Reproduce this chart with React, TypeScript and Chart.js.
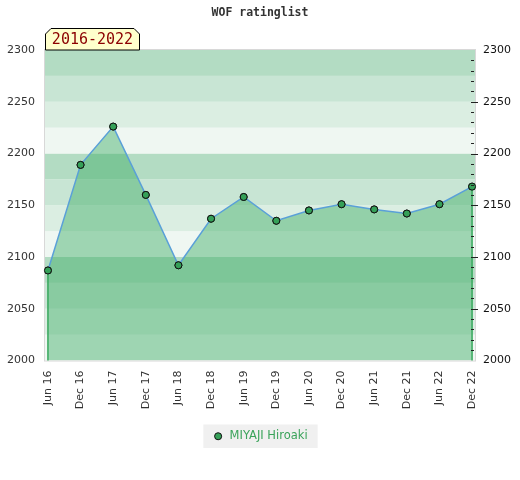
import React, { useEffect, useRef } from "react";
import { Chart, registerables } from "chart.js";

Chart.register(...registerables);

const titleText = "WOF ratinglist";
const periodLabel = "2016-2022";
const seriesName = "MIYAJI Hiroaki";
const categories = [
  "Jun 16", "Dec 16", "Jun 17", "Dec 17", "Jun 18", "Dec 18", "Jun 19",
  "Dec 19", "Jun 20", "Dec 20", "Jun 21", "Dec 21", "Jun 22", "Dec 22",
];
const ratings = [2087, 2189, 2226, 2160, 2092, 2137, 2158, 2135, 2145, 2151, 2146, 2142, 2151, 2168];
const yMin = 2000;
const yMax = 2300;
const yStep = 50;
const bandStep = 25;
const minorStep = 10;
const bandColors = ["#eff7f2", "#dbeee2", "#c8e5d4", "#b3dcc3"];

const sideX = 45;

const decorPlugin = {
  id: "decor",
  beforeDraw(chart: any) {
    const { ctx, chartArea, scales } = chart;
    const y = scales.y;
    ctx.save();
    for (let v = yMin; v < yMax; v += bandStep) {
      const idx = Math.floor(v / bandStep) % 4;
      const top = y.getPixelForValue(v + bandStep);
      const bot = y.getPixelForValue(v);
      ctx.fillStyle = bandColors[idx];
      ctx.fillRect(chartArea.left, top, chartArea.right - chartArea.left, bot - top);
    }
    const lg = chart.legend;
    if (lg && lg.legendHitBoxes && lg.legendHitBoxes.length) {
      const hb = lg.legendHitBoxes[0];
      ctx.fillStyle = "#f0f0f0";
      ctx.fillRect(hb.left - 9, hb.top - 6, hb.width + 19, hb.height + 12);
    }
    ctx.restore();
  },
  beforeDatasetsDraw(chart: any) {
    const { ctx, chartArea } = chart;
    ctx.save();
    ctx.strokeStyle = "#d8d8d8";
    ctx.lineWidth = 1;
    ctx.strokeRect(chartArea.left - 0.5, chartArea.top - 0.5, chartArea.right - chartArea.left + 1, chartArea.bottom - chartArea.top + 1);
    ctx.restore();
  },
  afterDatasetsDraw(chart: any) {
    const { ctx, chartArea, scales } = chart;
    const meta = chart.getDatasetMeta(0);
    const pts = meta.data;
    ctx.save();
    ctx.strokeStyle = "#36a85c";
    ctx.lineWidth = 1.5;
    [pts[0], pts[pts.length - 1]].forEach((p: any) => {
      ctx.beginPath();
      ctx.moveTo(p.x, p.y);
      ctx.lineTo(p.x, chartArea.bottom);
      ctx.stroke();
    });
    pts.forEach((p: any) => p.draw(ctx, chartArea));
    const y2 = scales.y2;
    ctx.strokeStyle = "#222";
    ctx.lineWidth = 1;
    for (let v = yMin + minorStep; v < yMax; v += minorStep) {
      const py = Math.round(y2.getPixelForValue(v)) + 0.5;
      const major = v % yStep === 0;
      ctx.beginPath();
      ctx.moveTo(chartArea.right - 4, py);
      ctx.lineTo(chartArea.right + (major ? 3 : -1), py);
      ctx.stroke();
    }
    const l = chartArea.left;
    const t = chartArea.top;
    const w = 95;
    const h = 22;
    const c = 6;
    ctx.beginPath();
    ctx.moveTo(l + 0.5, t);
    ctx.lineTo(l + 0.5, t - h + c);
    ctx.lineTo(l + c, t - h + 0.5);
    ctx.lineTo(l + w - c, t - h + 0.5);
    ctx.lineTo(l + w - 0.5, t - h + c);
    ctx.lineTo(l + w - 0.5, t);
    ctx.closePath();
    ctx.fillStyle = "#ffffcc";
    ctx.fill();
    ctx.strokeStyle = "#000";
    ctx.stroke();
    ctx.fillStyle = "#8b0000";
    ctx.font = "15px 'DejaVu Sans Mono'";
    ctx.textAlign = "center";
    ctx.textBaseline = "middle";
    ctx.fillText(periodLabel, l + w / 2, t - h / 2 + 1);
    ctx.restore();
  },
};

export default function App() {
  const ref = useRef<HTMLCanvasElement | null>(null);
  useEffect(() => {
    document.body.style.margin = "0";
    if (!ref.current) return;
    const chart = new Chart(ref.current, {
      type: "line",
      data: {
        datasets: [
          {
            label: seriesName,
            data: ratings.map((v, i) => ({ x: i, y: v })),
            borderColor: "#5aa0d8",
            borderWidth: 1.5,
            backgroundColor: "rgba(60,170,100,0.45)",
            fill: "start",
            tension: 0,
            pointRadius: 3.5,
            pointBackgroundColor: "#35a058",
            pointBorderColor: "#111",
            pointBorderWidth: 1,
          },
        ],
      },
      options: {
        animation: false,
        responsive: false,
        devicePixelRatio: 1,
        layout: { padding: { top: 0, bottom: 28, left: 0, right: 0 } },
        scales: {
          x: {
            type: "linear",
            min: -0.09,
            max: categories.length - 1 + 0.09,
            afterBuildTicks: (s: any) => {
              s.ticks = categories.map((_, i) => ({ value: i }));
            },
            afterFit: (s: any) => {
              s.height = 60;
            },
            grid: { display: false, drawTicks: false },
            border: { display: false },
            ticks: {
              callback: (v: any) => categories[v] ?? "",
              minRotation: 90,
              maxRotation: 90,
              autoSkip: false,
              padding: 10,
              color: "#333",
              font: { family: "'DejaVu Sans'", size: 11 },
            },
          },
          y: {
            position: "left",
            min: yMin,
            max: yMax,
            afterFit: (s: any) => {
              s.width = sideX;
            },
            grid: { display: false, drawTicks: false },
            border: { display: false },
            ticks: {
              stepSize: yStep,
              padding: 10,
              color: "#333",
              callback: (v: any) => String(v),
              font: { family: "'DejaVu Sans'", size: 11 },
            },
          },
          y2: {
            position: "right",
            min: yMin,
            max: yMax,
            afterFit: (s: any) => {
              s.width = sideX;
            },
            grid: { display: false, drawTicks: false },
            border: { display: false },
            ticks: {
              stepSize: yStep,
              padding: 8,
              color: "#111",
              callback: (v: any) => String(v),
              font: { family: "'DejaVu Sans'", size: 11 },
            },
          },
        },
        plugins: {
          title: {
            display: true,
            text: titleText,
            color: "#333",
            font: { family: "'DejaVu Sans Mono'", size: 11.5, weight: "bold" },
            padding: { top: 6, bottom: 30.2 },
          },
          legend: {
            display: true,
            position: "bottom",
            labels: {
              usePointStyle: true,
              pointStyle: "circle",
              boxWidth: 11.5,
              boxHeight: 5,
              padding: 10,
              color: "#3aa35a",
              font: { family: "'DejaVu Sans'", size: 11.5 },
              generateLabels: () => [
                {
                  text: seriesName,
                  fillStyle: "#35a058",
                  strokeStyle: "#111",
                  lineWidth: 1,
                  pointStyle: "circle",
                  fontColor: "#3aa35a",
                  datasetIndex: 0,
                  hidden: false,
                },
              ],
            },
          },
          tooltip: { enabled: false },
        },
      },
      plugins: [decorPlugin],
    } as any);
    return () => chart.destroy();
  }, []);
  return <canvas ref={ref} width={520} height={480} style={{ display: "block" }} />;
}
